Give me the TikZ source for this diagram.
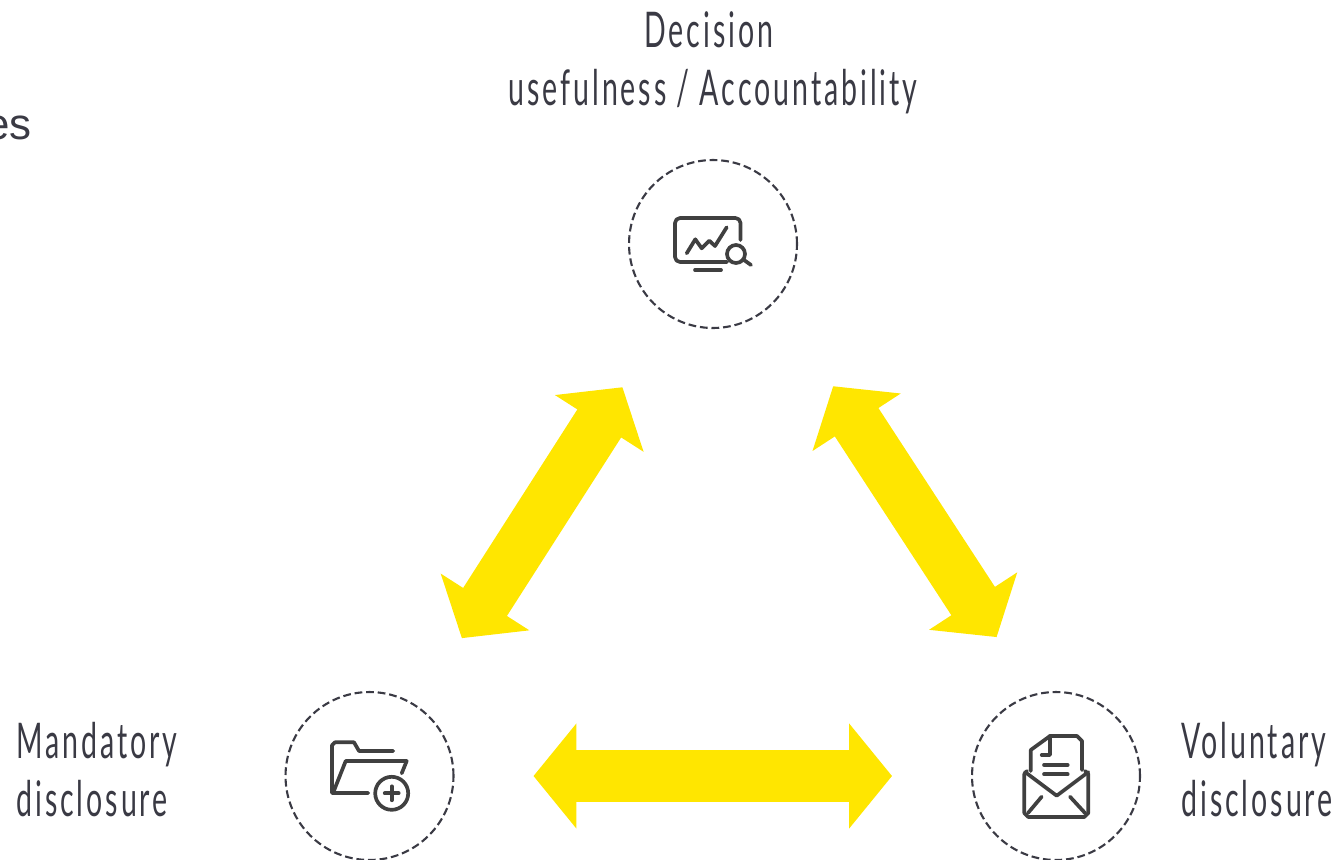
\documentclass[tikz,border=0pt]{standalone}
\usepackage{fontspec}
\usepackage{tikz}
\usetikzlibrary{arrows.meta}
\setmainfont{Liberation Sans}
\newfontfamily\labelfont[FakeStretch=0.58, LetterSpace=6]{Lato}
\definecolor{arrowyellow}{HTML}{FFE600}
\definecolor{icongray}{HTML}{404040}
\definecolor{labelgray}{HTML}{3A3A44}
\tikzset{
    hub/.style={circle, draw=labelgray, dashed, dash pattern=on 4.4pt off 2.2pt, line width=1.2pt, minimum size=3.36cm, inner sep=0pt, outer sep=0pt},
    hublabel/.style={align=left, font=\labelfont\fontsize{28}{33}\selectfont, text=labelgray, inner sep=0pt},
    bigarrow/.style={arrowyellow, line width=1.04cm, {Triangle[length=0.86cm, width=2.06cm]}-{Triangle[length=0.86cm, width=2.06cm]}},
    iconline/.style={icongray, line width=2.1pt, line cap=round, line join=round}
}

\begin{document}
\begin{tikzpicture}[x=0.02cm, y=-0.02cm]
    \useasboundingbox (0,0) rectangle (1341,859);

    % Circles
    \node[hub] (decision) at (713,244) {};
    \node[hub] (mandatory) at (369.5,776) {};
    \node[hub] (voluntary) at (1056,776) {};

    % Labels
    \node[hublabel, align=center, anchor=base] (decisiontop) at (709,47) {Decision};
    \node[hublabel, align=center, anchor=base] (decisionbot) at (713,105) {usefulness / Accountability};
    \node[hublabel, anchor=base west] (mandatorytop) at (16,758) {Mandatory};
    \node[hublabel, anchor=base west] (mandatorybot) at (16,816) {disclosure};
    \node[hublabel, anchor=base west] (voluntarytop) at (1181,758) {Voluntary};
    \node[hublabel, anchor=base west] (voluntarybot) at (1181,816) {disclosure};

    % Cut-off text
    \node[anchor=base east, inner sep=0pt, font=\fontsize{25}{30}\selectfont, text=labelgray] (cutoff) at (32,139) {es};

    % Yellow arrows
    \draw[bigarrow, shorten <=1.71cm, shorten >=1.64cm] (decision.-122.4) -- (mandatory.55.8);
    \draw[bigarrow, shorten <=2.08cm, shorten >=1.38cm] (decision.-41.6) -- (voluntary.105);
    \draw[bigarrow, shorten <=1.6cm, shorten >=1.6cm] (mandatory) -- (voluntary);

    % Monitor icon
    \draw[iconline] (740.5,240) -- (740.5,223) arc (0:-90:5) -- (680,218) arc (-90:-180:5) -- (675,257) arc (180:90:5) -- (727,262);
    \draw[iconline] (695,270) -- (721,270);
    \draw[iconline] (686.7,253.3) -- (695.3,239.3) -- (701.7,248.3) -- (709.3,240.7) -- (715,246) -- (726.7,227.3);
    \draw[iconline] (736,254) circle (9);
    \draw[iconline] (744,260) -- (751,265);

    % Folder icon
    \draw[iconline] (393.3,751) -- (359,751) -- (354,742.3) -- (335,742.3) -- (332,745.3) -- (332,793) -- (368.3,793);
    \draw[iconline] (333.3,792.3) -- (345.7,761) -- (406.7,761) -- (401.7,773.3);
    \draw[iconline] (391.7,793.3) circle (16.5);
    \draw[iconline] (384.7,793.3) -- (398.7,793.3);
    \draw[iconline] (391.7,786.3) -- (391.7,800.3);

    % Envelope icon
    \draw[iconline] (1027,771) -- (1024.3,774) -- (1024.3,813) -- (1028.3,817) -- (1084.3,817) -- (1088.3,813) -- (1088.3,774) -- (1085,771);
    \draw[iconline] (1025,772) -- (1056.7,795.7) -- (1088.3,772);
    \draw[iconline] (1030.7,771) -- (1030.7,750) -- (1050,736) -- (1077,736) -- (1082,741) -- (1082,770);
    \draw[iconline] (1050,736) -- (1050,755) -- (1041.7,755);
    \draw[iconline] (1044,765) -- (1067.7,765);
    \draw[iconline] (1044,774.3) -- (1067.7,774.3);
    \draw[iconline] (1041.7,796.7) -- (1028,813);
    \draw[iconline] (1070,796.7) -- (1085,813);
\end{tikzpicture}
\end{document}
